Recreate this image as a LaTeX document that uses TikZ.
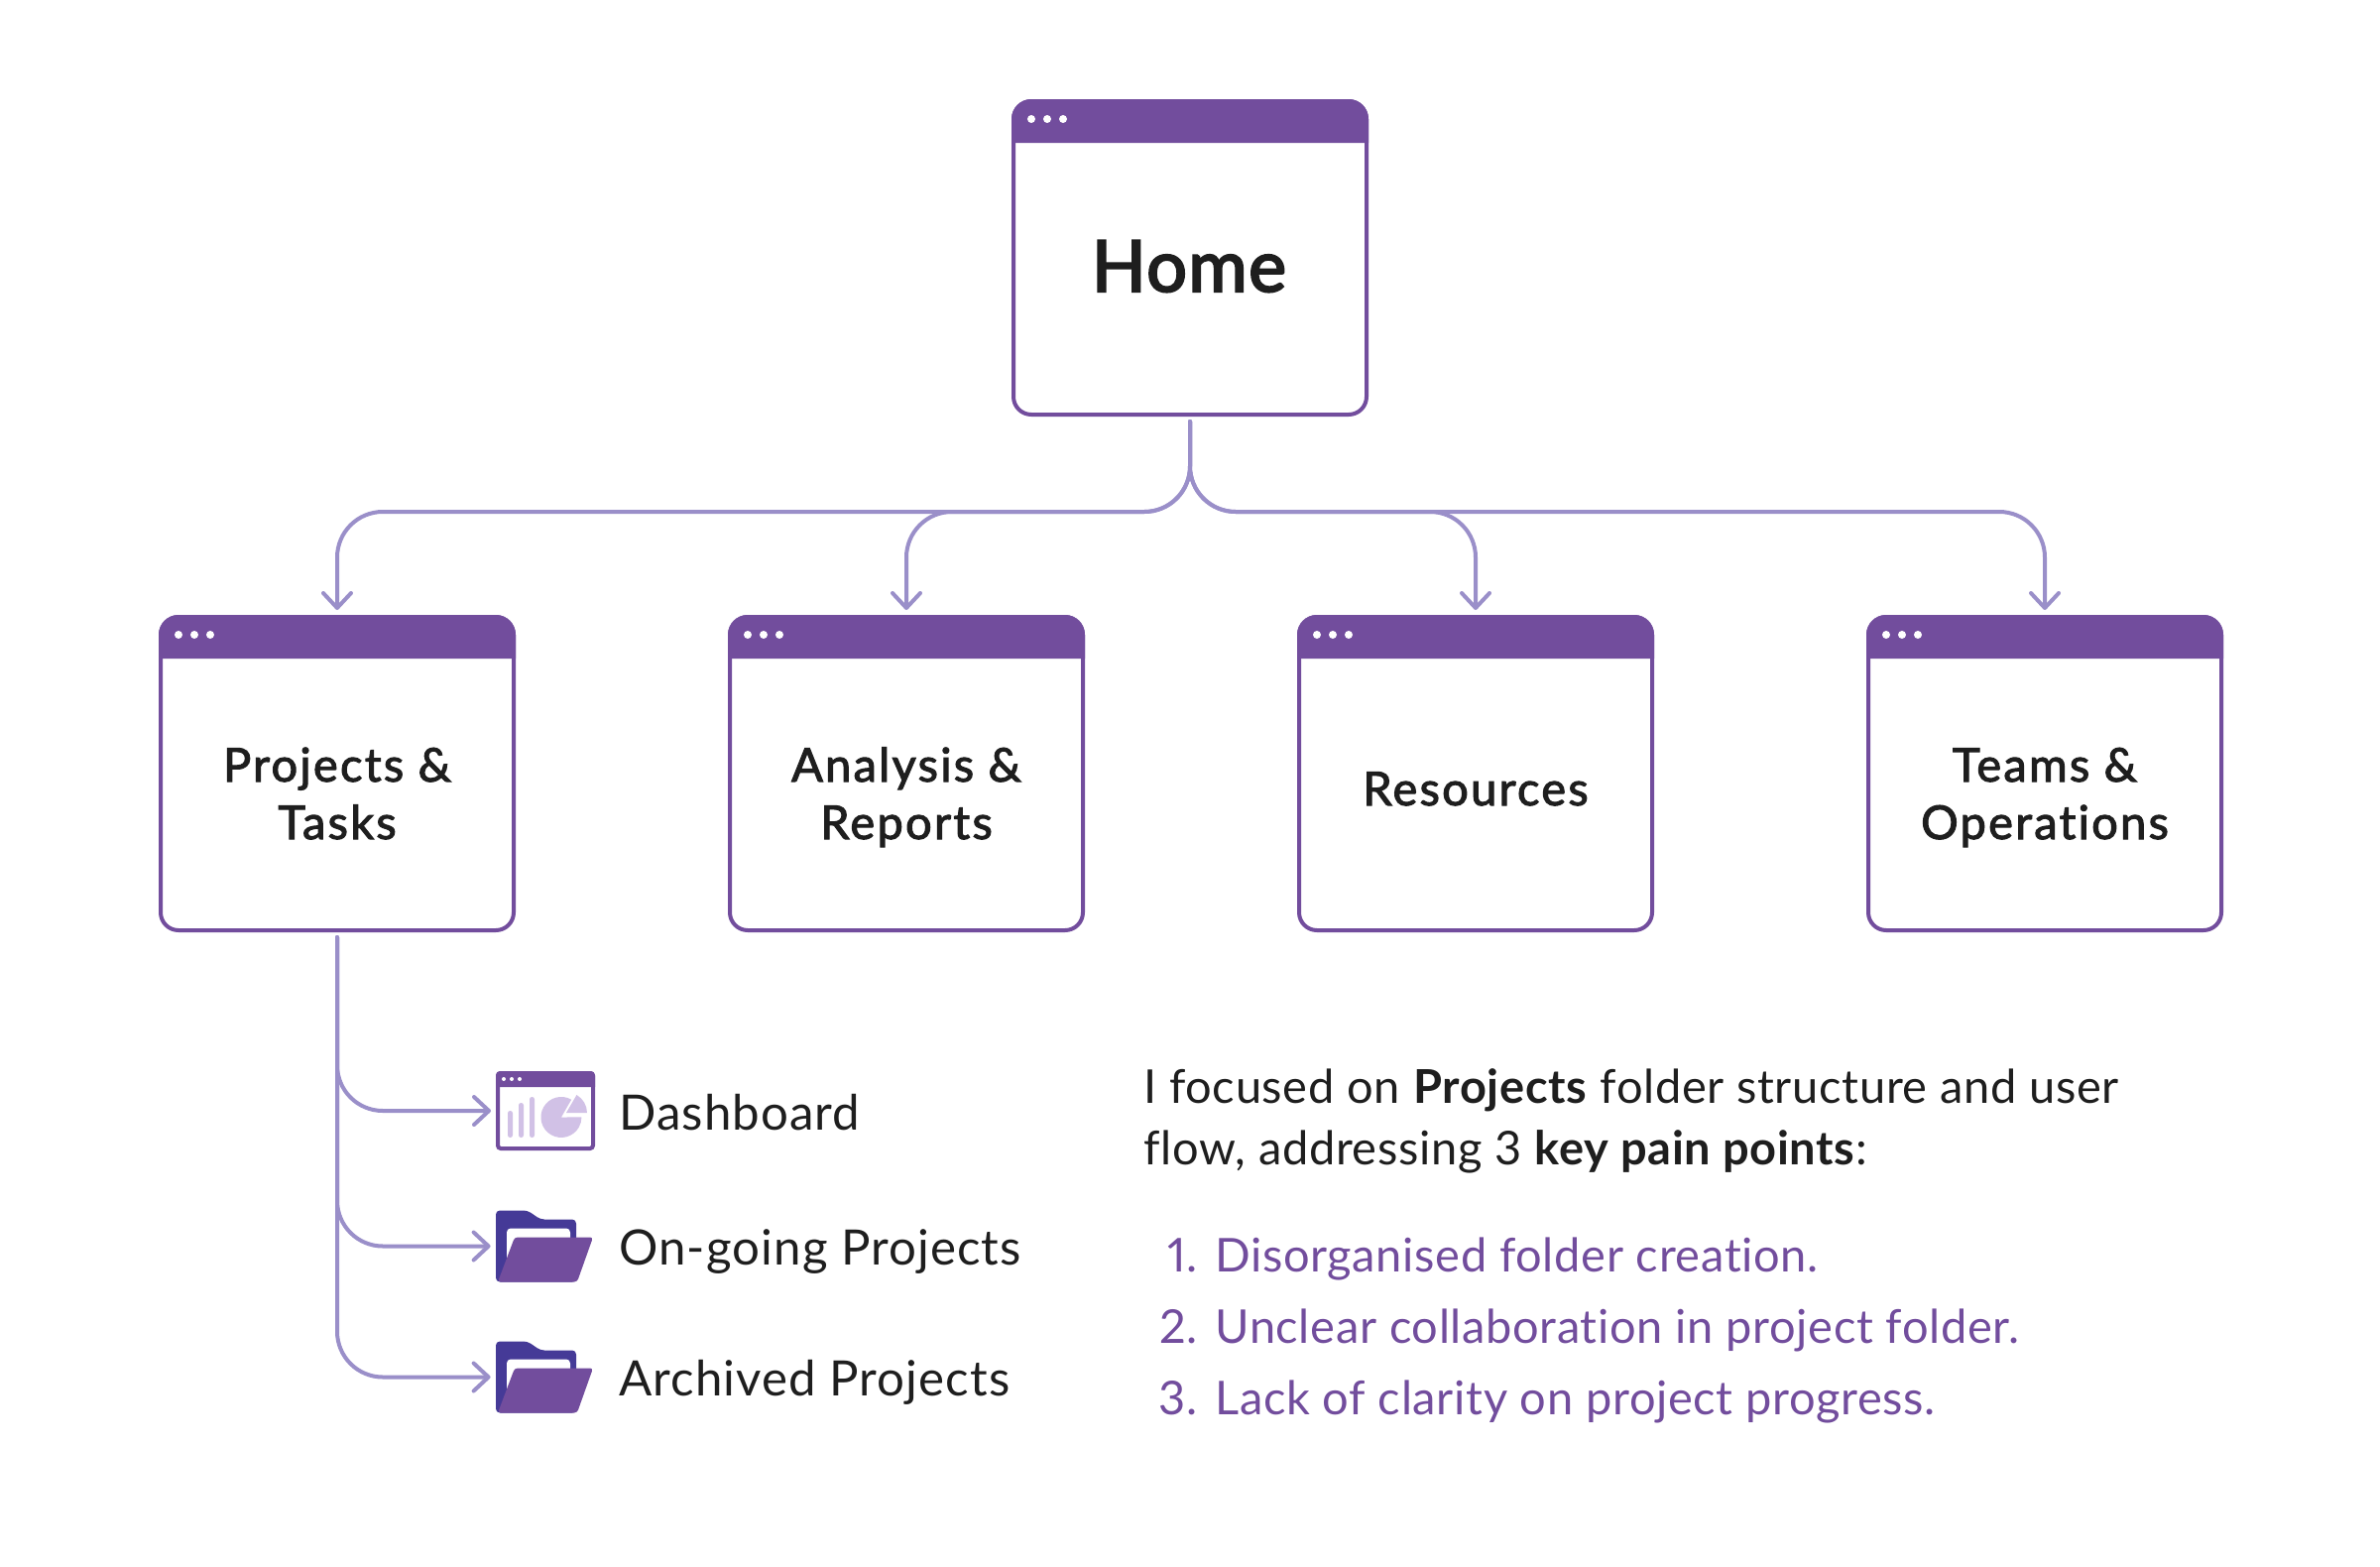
\documentclass[tikz,border=0pt]{standalone}
\usepackage{fontspec}
\setmainfont{Lato}[Ligatures=NoCommon,Numbers=Proportional,LetterSpace=1.4]
\newfontfamily\labelfont{Lato}[Ligatures=NoCommon,Numbers=Proportional,LetterSpace=2.2]
\newfontfamily\titlefont{Lato}[Ligatures=NoCommon,FakeBold=2.2,LetterSpace=4.8]
\newfontfamily\homefont{Lato}[Ligatures=NoCommon,FakeBold=3,LetterSpace=2]
\usepackage{tikz}
\usetikzlibrary{positioning,calc,arrows.meta}
\definecolor{mypurple}{HTML}{724D9D}
\definecolor{myindigo}{HTML}{453A97}
\definecolor{mylilac}{HTML}{9A8FC9}
\definecolor{mypale}{HTML}{D1C1E6}
\definecolor{myink}{HTML}{1E1E1E}
\tikzset{
  sitemappic/.style={
    x=.5pt,y=-.5pt
    ,inner sep=0pt
    ,text=myink
  }
  ,windowbox/.style={rectangle,draw=mypurple,line width=2pt,fill=white
    ,rounded corners=9pt,minimum width=178pt,minimum height=158pt}
  ,iconbox/.style={windowbox,rounded corners=1.5pt
    ,minimum width=48pt,minimum height=38pt}
  ,folderslot/.style={rectangle,minimum width=50pt,minimum height=36pt}
  ,hometitle/.style={font=\fontsize{36}{40}\selectfont\homefont,anchor=base}
  ,boxtitle/.style={font=\fontsize{23.5}{29}\selectfont\titlefont,align=center,anchor=base}
  ,iconlabel/.style={font=\fontsize{24.6}{30}\selectfont\labelfont,anchor=base west}
  ,introtext/.style={font=\fontsize{23.5}{30}\selectfont,anchor=base west}
  ,painnum/.style={font=\fontsize{23.5}{30}\selectfont,text=mypurple,anchor=base east}
  ,paintext/.style={font=\fontsize{23.5}{30}\selectfont,text=mypurple,anchor=base west}
  ,flow/.style={draw=mylilac,line width=2pt,rounded corners=23pt,line cap=round
    ,-{Straight Barb[length=7.5pt,width=14pt,round]},shorten >=2.5pt}
}
% title bar of a window: name, bar height, dot offsets, dot row, dot radius
\newcommand{\windowbar}[5]{
  \fill[mypurple] ($(#1.north west)+(0,#2)$) [rounded corners=\pgfkeysvalueof{/tikz/barround}]
    -- (#1.north west) -- (#1.north east) [sharp corners] -- ($(#1.north east)+(0,#2)$) -- cycle;
  \foreach \dotx in {#3}
    \fill[white] ($(#1.north west)+(\dotx,#4)$) circle[radius=#5];
}
\pgfkeyssetvalue{/tikz/barround}{10pt}
\newcommand{\foldericon}[1]{
  \begin{scope}[shift={(#1.center)}]
    \fill[myindigo,rounded corners=2pt] (-50,-36) -- (-18,-36) -- (-5,-27) -- (31,-27)
      -- (31,36) -- (-50,36) -- cycle;
    \fill[white,rounded corners=2pt] (-39,-18) -- (25,-18) -- (25,20) -- (-39,20) -- cycle;
    \fill[mypurple,rounded corners=1.5pt] (-31,-9) -- (48,-9) -- (32,36) -- (-48,36) -- cycle;
  \end{scope}
}

\begin{document}
\begin{tikzpicture}[sitemappic]
    \useasboundingbox (0,0) rectangle (2400,1580);

    % site map windows
    \node[windowbox] (home) at (1200,260) {};
    \node[windowbox] (projects) at (340,780) {};
    \node[windowbox] (analysis) at (914,780) {};
    \node[windowbox] (resources) at (1488,780) {};
    \node[windowbox] (teams) at (2062,780) {};

    \foreach \win in {home,projects,analysis,resources,teams}
      \windowbar{\win}{44}{20,36,52}{20}{2pt};

    \node[hometitle] (hometxt) at (1199,294) {Home};
    \node[boxtitle] (projectstxt) at (340,846) {Projects \&\\Tasks};
    \node[boxtitle] (analysistxt) at (914,846) {Analysis \&\\Reports};
    \node[boxtitle] (resourcestxt) at (1488,812) {Resources};
    \node[boxtitle] (teamstxt) at (2062,846) {Teams \&\\Operations};

    % arrows from home
    \coordinate (bus) at (1200,516);
    \foreach \win in {projects,analysis,resources,teams}
      \draw[flow] ([yshift=-2.5pt]home.south) -- (home.south |- bus)
        -- (\win.north |- bus) -- (\win.north);

    % icons below projects
    \pgfkeyssetvalue{/tikz/barround}{2pt}
    \node[iconbox] (dashboard) at (550,1120) {};
    \windowbar{dashboard}{16}{8,16,24}{8}{1pt};
    \fill[mypale,rounded corners=1.2pt] (512,1120) rectangle (517,1147);
    \fill[mypale,rounded corners=1.2pt] (523,1112) rectangle (528,1147);
    \fill[mypale,rounded corners=1.2pt] (534,1106) rectangle (539,1147);
    \fill[mypale] (566,1126.5) -- (576.2,1108.7) arc[start angle=60,end angle=360,radius=10.25pt] -- cycle;
    \fill[mypale] (571,1122) -- (581.5,1104) arc[start angle=60,end angle=0,radius=10.5pt] -- cycle;
    \node[folderslot] (ongoing) at (550,1256.5) {};
    \node[folderslot] (archived) at (550,1388.5) {};
    \foldericon{ongoing}
    \foldericon{archived}

    \foreach \icon in {dashboard,ongoing,archived}
      \draw[flow] ([yshift=-2.5pt]projects.south) -- (projects.south |- \icon.west) -- (\icon.west);

    \node[iconlabel] (dashboardtxt) at (624,1139) {Dashboard};
    \node[iconlabel] (ongoingtxt) at (624,1275) {On-going Projects};
    \node[iconlabel] (archivedtxt) at (624,1407) {Archived Projects};

    % text on the right
    \node[introtext] (introa) at (1153,1112) {I focused on \textbf{Projects} folder structure and user};
    \node[introtext] (introb) at (1153,1174) {flow, addressing 3 \textbf{key pain points}:};
    \node[painnum] (numa) at (1208,1282) {1.};
    \node[paintext] (paina) at (1225,1282) {Disorganised folder creation.};
    \node[painnum] (numb) at (1208,1354) {2.};
    \node[paintext] (painb) at (1225,1354) {Unclear collaboration in project folder.};
    \node[painnum] (numc) at (1208,1426) {3.};
    \node[paintext] (painc) at (1225,1426) {Lack of clarity on project progress.};
\end{tikzpicture}
\end{document}
